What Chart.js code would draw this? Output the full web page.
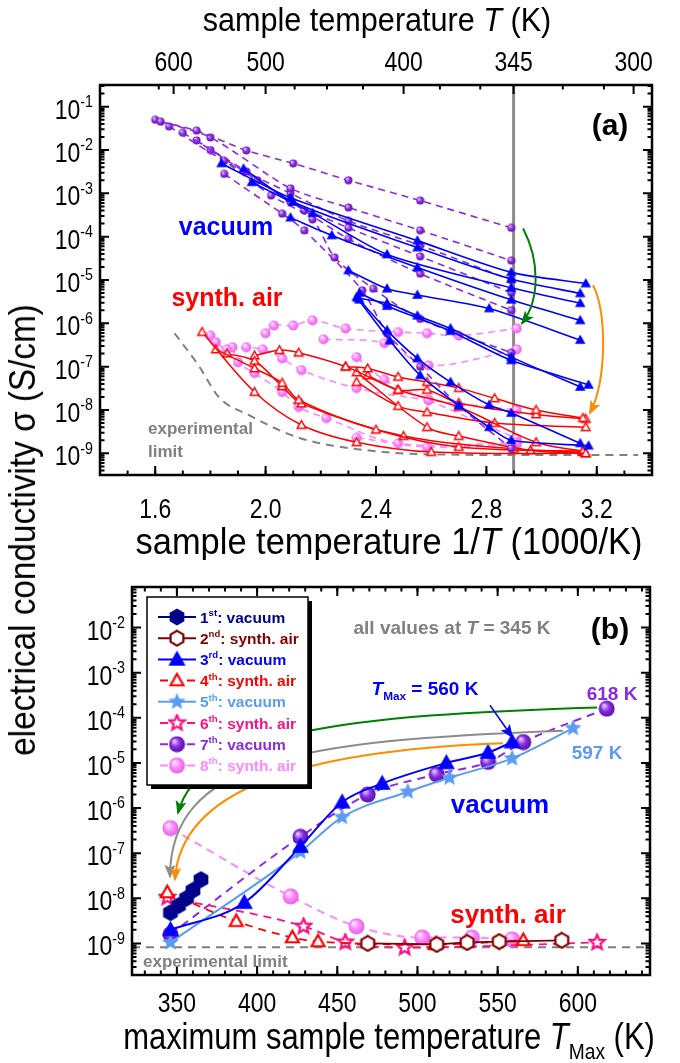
<!DOCTYPE html>
<html>
<head>
<meta charset="utf-8">
<script src="https://cdn.jsdelivr.net/npm/chart.js@4.4.1/dist/chart.umd.min.js"></script>
<style>
  html, body { margin: 0; padding: 0; background: #fff; }
  #wrap { position: relative; width: 680px; height: 1063px; overflow: hidden; }
  #ca { position: absolute; left: 0; top: 0; }
  #cb { position: absolute; left: 0; top: 560px; }
  #ylab {
    position: absolute; left: 23px; top: 530px; white-space: nowrap;
    font-family: "Liberation Sans", Arial, sans-serif; font-size: 37px;
    transform: translate(-50%, -50%) rotate(-90deg) scaleX(0.9);
  }
</style>
</head>
<body>
<div id="wrap">
  <canvas id="ca" width="680" height="560"></canvas>
  <canvas id="cb" width="680" height="503"></canvas>
  <div id="ylab">electrical conductivity σ (S/cm)</div>
</div>
<script>
const FONT = '"Liberation Sans", Arial, sans-serif';

// ---------- panel (a): sigma vs 1000/T ----------
const xTicksA = [1.6, 2.0, 2.4, 2.8, 3.2];
const topTicksA = [600, 500, 400, 345, 300];
const topMinorA = [620, 580, 560, 540, 520, 475, 450, 425, 380, 360, 325, 310];
const decadesA = [-1, -2, -3, -4, -5, -6, -7, -8, -9];
const refT = 345;

// 3rd run, vacuum (x = 1000/T, y = sigma in S/cm)
const vac3X = [
  [1.84, 2.09, 2.55, 2.89, 3.16],
  [1.92, 2.10, 2.55, 2.89, 3.14],
  [1.95, 2.17, 2.44, 2.89, 3.14],
  [2.09, 2.24, 2.55, 2.89, 3.14],
  [2.30, 2.44, 2.55, 2.81, 3.14],
  [2.335, 2.44, 2.55, 2.67, 2.89, 3.14],
  [2.34, 2.44, 2.67, 2.89, 3.17],
  [2.34, 2.44, 2.55, 2.67, 2.81, 2.89, 3.14],
  [2.33, 2.45, 2.56, 2.70, 2.81, 2.89, 3.17]
];
const vac3S = [
  [4.9e-3, 7.9e-4, 8.1e-5, 1.5e-5, 8.3e-6],
  [3.7e-3, 6.3e-4, 5.6e-5, 1.05e-5, 4.9e-6],
  [1.8e-3, 3.5e-4, 3.9e-5, 6.6e-6, 2.9e-6],
  [2.75e-4, 1.07e-4, 1.95e-5, 3.5e-6, 1.17e-6],
  [1.66e-5, 6.3e-6, 4.5e-6, 2.2e-6, 4.1e-7],
  [3.8e-6, 2.9e-6, 1.5e-6, 7.6e-7, 1.66e-7, 3.4e-8],
  [5.0e-6, 2.5e-6, 6.6e-7, 1.4e-7, 3.8e-8],
  [3.5e-6, 6.9e-7, 1.55e-7, 4.4e-8, 1.3e-8, 8.5e-9, 1.7e-9],
  [4.0e-6, 4.0e-7, 6.3e-8, 1.26e-8, 4.0e-9, 2.0e-9, 1.5e-9]
];

// 7th run, vacuum
const vac7X = [
  [1.62, 1.75, 1.93, 2.10, 2.30, 2.56, 2.89],
  [1.60, 1.80, 2.09, 2.30, 2.56, 2.89],
  [1.65, 1.85, 2.09, 2.30, 2.56, 2.89],
  [1.70, 1.93, 2.09, 2.30, 2.56, 2.89],
  [1.75, 1.97, 2.14, 2.30, 2.56, 2.89],
  [1.80, 2.02, 2.17, 2.25, 2.39, 2.56, 2.89],
  [1.85, 2.06, 2.14, 2.35, 2.44, 2.56, 2.70, 2.89]
];
const vac7S = [
  [4.5e-2, 2.8e-2, 9.8e-3, 4.9e-3, 2.0e-3, 6.8e-4, 1.6e-4],
  [5.0e-2, 1.95e-2, 1.3e-3, 4.7e-4, 1.4e-4, 2.8e-5],
  [3.5e-2, 5.6e-3, 1.0e-3, 2.3e-4, 6.3e-5, 1.0e-5],
  [2.5e-2, 3.2e-3, 6.3e-4, 1.6e-4, 3.5e-5, 5.1e-6],
  [1.66e-2, 2.0e-3, 4.0e-4, 8.9e-5, 1.4e-5, 2.0e-6],
  [1.0e-2, 8.9e-4, 2.5e-4, 3.3e-5, 6.3e-6, 1.26e-6, 2.1e-7],
  [2.8e-3, 3.4e-4, 1.4e-4, 5.8e-6, 5.9e-7, 1.0e-7, 1.26e-8, 1.3e-9]
];

// 4th run, synthetic air
const air4X = [
  [1.77, 1.96, 2.13, 2.33, 2.60, 3.16],
  [1.82, 1.96, 2.06, 2.12, 2.40, 2.70, 3.15],
  [1.86, 1.96, 2.06, 2.13, 2.50, 2.90, 3.15],
  [1.96, 2.05, 2.12, 2.29, 2.48, 2.70, 2.98, 3.15],
  [2.29, 2.37, 2.48, 2.585, 2.70, 2.83, 2.98, 3.15],
  [2.37, 2.48, 2.585, 2.70, 2.98, 3.16],
  [2.33, 2.48, 2.585, 2.83, 3.16],
  [2.33, 2.585, 2.70, 2.96, 3.16]
];
const air4S = [
  [6.3e-7, 2.6e-8, 4.5e-9, 1.8e-9, 1.07e-9, 1.0e-9],
  [2.5e-7, 9.1e-8, 4.2e-8, 1.7e-8, 3.5e-9, 1.4e-9, 1.12e-9],
  [2.0e-7, 1.35e-7, 3.5e-8, 1.4e-8, 2.5e-9, 1.26e-9, 1.07e-9],
  [1.8e-7, 2.4e-7, 2.1e-7, 1.0e-7, 2.9e-8, 1.17e-8, 1.8e-9, 1.12e-9],
  [1.0e-7, 9.1e-8, 5.8e-8, 4.4e-8, 3.2e-8, 1.86e-8, 1.0e-8, 6.5e-9],
  [6.3e-8, 2.9e-8, 2.9e-8, 1.45e-8, 7.9e-9, 6.2e-9],
  [4.4e-8, 1.23e-8, 8.9e-9, 5.0e-9, 4.0e-9],
  [7.4e-8, 4.0e-9, 2.5e-9, 1.17e-9, 1.0e-9]
];

// 8th run, synthetic air
const air8X = [
  [1.80, 1.82, 1.86, 1.93, 1.99, 2.06, 2.13, 2.33, 2.59, 2.91],
  [2.00, 2.03, 2.10, 2.17, 2.29, 2.48, 2.585, 2.70, 2.91],
  [2.21, 2.43, 2.59, 2.91],
  [1.88, 1.90, 1.96, 2.06, 2.12, 2.22, 2.48, 2.91],
  [2.33, 2.43, 2.59, 2.91],
  [2.33, 2.585, 2.91]
];
const air8S = [
  [5.2e-7, 3.7e-7, 2.5e-7, 2.8e-7, 2.5e-7, 1.55e-7, 8.3e-8, 3.2e-8, 1.7e-8, 1.0e-8],
  [5.9e-7, 8.9e-7, 8.9e-7, 1.17e-6, 7.6e-7, 6.3e-7, 5.9e-7, 5.2e-7, 7.6e-7],
  [4.3e-7, 3.5e-7, 1.07e-7, 2.5e-7],
  [2.8e-7, 1.26e-7, 7.1e-8, 2.6e-8, 1.17e-8, 6.5e-9, 1.7e-9, 1.74e-9],
  [1.66e-7, 5.0e-8, 1.7e-8, 2.2e-9],
  [2.3e-9, 1.4e-9, 1.6e-9]
];

// experimental limit (panel a)
const limitAX = [1.67, 1.76, 1.83, 1.94, 2.12, 2.43, 2.70, 3.00, 3.35];
const limitAS = [5.9e-7, 1.0e-7, 2.0e-8, 7.6e-9, 2.3e-9, 1.07e-9, 9.3e-10, 9.1e-10, 9.1e-10];

// ---------- panel (b): sigma at 345 K vs T_Max ----------
const xTicksB = [350, 400, 450, 500, 550, 600];
const decadesB = [-2, -3, -4, -5, -6, -7, -8, -9];
const tmax1 = [346, 351, 356, 360, 365];
const sig1 = [4.8e-9, 6.9e-9, 1.0e-8, 1.5e-8, 2.6e-8];
const tmax2 = [469, 512, 531, 551, 590];
const sig2 = [1.0e-9, 9.5e-10, 1.05e-9, 1.1e-9, 1.17e-9];
const tmax3 = [346, 392, 427, 453, 478, 518, 544, 559];
const sig3 = [2.0e-9, 8.0e-9, 1.4e-7, 1.35e-6, 3.5e-6, 1.0e-5, 1.7e-5, 2.9e-5];
const tmax4 = [344, 387, 422, 438, 511, 566];
const sig4 = [1.35e-8, 3.1e-9, 1.35e-9, 1.1e-9, 9.5e-10, 1.17e-9];
const tmax5 = [346, 427, 453, 494, 520, 559, 597];
const sig5 = [1.05e-9, 1.07e-7, 6.3e-7, 2.3e-6, 4.7e-6, 1.26e-5, 5.9e-5];
const tmax6 = [344, 429, 455, 492, 612];
const sig6 = [1.05e-8, 2.4e-9, 1.07e-9, 8.1e-10, 1.05e-9];
const tmax7 = [346, 427, 469, 512, 544, 566, 618];
const sig7 = [1.6e-9, 2.3e-7, 2.0e-6, 5.6e-6, 1.05e-5, 2.9e-5, 1.6e-4];
const tmax8 = [346, 421, 462, 503, 534, 559];
const sig8 = [3.6e-7, 1.1e-8, 2.4e-9, 1.35e-9, 1.35e-9, 1.23e-9];
const expLimitB = 8.2e-10;

const legOrd = ['1', '2', '3', '4', '5', '6', '7', '8'];
const legSup = ['st', 'nd', 'rd', 'th', 'th', 'th', 'th', 'th'];
const legName = ['vacuum', 'synth. air', 'vacuum', 'synth. air', 'vacuum', 'synth. air', 'vacuum', 'synth. air'];

// ---------- marker images ----------
function mk(size, fn) {
  const c = document.createElement('canvas');
  c.width = c.height = size;
  const g = c.getContext('2d');
  g.translate(size / 2, size / 2);
  fn(g, size / 2);
  return c;
}
function poly(g, pts, fill, stroke, lw) {
  g.beginPath();
  pts.forEach((p, i) => i ? g.lineTo(p[0], p[1]) : g.moveTo(p[0], p[1]));
  g.closePath();
  if (fill) { g.fillStyle = fill; g.fill(); }
  if (stroke) { g.lineWidth = lw; g.strokeStyle = stroke; g.lineJoin = 'miter'; g.stroke(); }
}
function triMk(size, fill, stroke, lw) {
  return mk(size, (g, r) => {
    const h = r - lw - 0.5;
    poly(g, [[0, -h], [h * 0.95, h * 0.7], [-h * 0.95, h * 0.7]], fill, stroke, lw);
  });
}
function hexMk(size, fill, stroke, lw) {
  return mk(size, (g, r) => {
    const rr = r - lw / 2 - 0.5, pts = [];
    for (let i = 0; i < 6; i++) { const a = -Math.PI / 2 + i * Math.PI / 3; pts.push([rr * Math.cos(a), rr * Math.sin(a)]); }
    poly(g, pts, fill, stroke, lw);
  });
}
function starMk(size, fill, stroke, lw) {
  return mk(size, (g, r) => {
    const ro = r - lw / 2 - 0.5, ri = ro * 0.45, pts = [];
    for (let i = 0; i < 10; i++) { const a = -Math.PI / 2 + i * Math.PI / 5, q = i % 2 ? ri : ro; pts.push([q * Math.cos(a), q * Math.sin(a)]); }
    poly(g, pts, fill, stroke, lw);
  });
}
function ballMk(size, base, hi, edge) {
  return mk(size, (g, r) => {
    const gr = g.createRadialGradient(-r * 0.35, -r * 0.4, r * 0.05, 0, 0, r);
    gr.addColorStop(0, hi); gr.addColorStop(0.5, base); gr.addColorStop(1, edge);
    g.fillStyle = gr; g.beginPath(); g.arc(0, 0, r - 0.5, 0, Math.PI * 2); g.fill();
  });
}

const C = {
  navy: '#00008b', dred: '#800000', blue: '#0000ff', red: '#ff0000',
  lblue: '#5b9cf2', dpink: '#ff1080', purple: '#8a2be2', pink: '#ff88ff',
  gray: '#8c8c8c', green: '#008000', orange: '#ff8c00'
};

// ---------- text helper ----------
function runFont(r, o) {
  const s = (r.sub || r.sup) ? o.size * 0.62 : o.size;
  return (r.it ? 'italic ' : '') + (o.bold ? 'bold ' : '') + s + 'px ' + FONT;
}
function txt(ctx, runs, x, y, o) {
  ctx.save();
  ctx.fillStyle = o.color || '#000';
  ctx.textBaseline = 'alphabetic';
  ctx.textAlign = 'left';
  let w = 0;
  const ws = runs.map(r => { ctx.font = runFont(r, o); const m = ctx.measureText(r.t).width; w += m; return m; });
  const sx = o.sx || 1;
  ctx.translate(x, y + o.size * 0.36);
  ctx.scale(sx, 1);
  let cx = o.align === 'left' ? 0 : o.align === 'right' ? -w : -w / 2;
  runs.forEach((r, i) => {
    ctx.font = runFont(r, o);
    const dy = r.sup ? -o.size * 0.42 : r.sub ? o.size * 0.28 : 0;
    ctx.fillText(r.t, cx, dy);
    cx += ws[i];
  });
  ctx.restore();
}

// ---------- axis helpers ----------
function frame(ctx, a) {
  ctx.save(); ctx.lineWidth = 2.5; ctx.strokeStyle = '#000';
  ctx.strokeRect(a.left, a.top, a.right - a.left, a.bottom - a.top); ctx.restore();
}
function xTickMarks(ctx, a, pxs, len, top, bottom) {
  ctx.save(); ctx.lineWidth = 2; ctx.strokeStyle = '#000'; ctx.beginPath();
  pxs.forEach(p => {
    if (bottom) { ctx.moveTo(p, a.bottom); ctx.lineTo(p, a.bottom - len); }
    if (top) { ctx.moveTo(p, a.top); ctx.lineTo(p, a.top + len); }
  });
  ctx.stroke(); ctx.restore();
}
function yTickMarks(ctx, a, pys, len) {
  ctx.save(); ctx.lineWidth = 2; ctx.strokeStyle = '#000'; ctx.beginPath();
  pys.forEach(p => {
    ctx.moveTo(a.left, p); ctx.lineTo(a.left + len, p);
    ctx.moveTo(a.right, p); ctx.lineTo(a.right - len, p);
  });
  ctx.stroke(); ctx.restore();
}
function logAxis(ctx, a, ys, decades, labelRight, size) {
  const major = [], minor = [];
  for (let d = -12; d <= 1; d++) {
    const pv = ys.getPixelForValue(Math.pow(10, d));
    if (pv >= a.top - 0.5 && pv <= a.bottom + 0.5) major.push(pv);
    for (let k = 2; k <= 9; k++) {
      const v = k * Math.pow(10, d);
      if (v > ys.min && v < ys.max) minor.push(ys.getPixelForValue(v));
    }
  }
  yTickMarks(ctx, a, major, 9);
  yTickMarks(ctx, a, minor, 4.5);
  decades.forEach(d => {
    const p = ys.getPixelForValue(Math.pow(10, d));
    txt(ctx, [{ t: '10' }, { t: String(d), sup: true }], labelRight, p + 2, { size: size, align: 'right', sx: 0.82 });
  });
}
function bez(ctx, xs, ys, P, color, lw) {
  const q = P.map(p => [xs.getPixelForValue(p[0]), ys.getPixelForValue(p[1])]);
  ctx.save(); ctx.strokeStyle = color; ctx.fillStyle = color; ctx.lineWidth = lw;
  ctx.beginPath(); ctx.moveTo(q[0][0], q[0][1]);
  if (q.length === 4) ctx.bezierCurveTo(q[1][0], q[1][1], q[2][0], q[2][1], q[3][0], q[3][1]);
  else ctx.lineTo(q[1][0], q[1][1]);
  const e = q[q.length - 1], b = q[q.length - 2];
  const ang = Math.atan2(e[1] - b[1], e[0] - b[0]);
  ctx.stroke();
  ctx.translate(e[0], e[1]); ctx.rotate(ang);
  ctx.beginPath(); ctx.moveTo(2, 0); ctx.lineTo(-12, -5.5); ctx.lineTo(-9, 0); ctx.lineTo(-12, 5.5); ctx.closePath(); ctx.fill();
  ctx.restore();
}

// ---------- datasets ----------
function curves(xs, ys, style) {
  return xs.map((xv, i) => Object.assign({ data: xv.map((x, j) => ({ x: x, y: ys[i][j] })), showLine: true }, style));
}
const mkA = {
  tri: triMk(12, C.blue, null, 0),
  otri: triMk(13, '#fff', C.red, 1.5),
  pball: ballMk(9, '#8a2be2', '#e8d0ff', '#5a10a0'),
  kball: ballMk(11, '#ff88ff', '#fff0ff', '#e060e0')
};
const dsA = [].concat(
  curves(vac3X, vac3S, { borderColor: C.blue, borderWidth: 1.6, pointStyle: mkA.tri, pointRadius: 5, tension: 0.25 }),
  curves(vac7X, vac7S, { borderColor: C.purple, borderWidth: 1.6, borderDash: [7, 5], pointStyle: mkA.pball, pointRadius: 4, tension: 0.25 }),
  curves(air4X, air4S, { borderColor: C.red, borderWidth: 1.5, pointStyle: mkA.otri, pointRadius: 5, tension: 0.35 }),
  curves(air8X, air8S, { borderColor: C.pink, borderWidth: 1.6, borderDash: [7, 5], pointStyle: mkA.kball, pointRadius: 5, tension: 0.35 }),
  [{ data: limitAX.map((x, j) => ({ x: x, y: limitAS[j] })), showLine: true, borderColor: '#808080', borderWidth: 2,
     borderDash: [8, 6], pointRadius: 0, cubicInterpolationMode: 'monotone' }]
);

const seriesB = [
  { x: tmax1, y: sig1, color: C.navy, mk: hexMk(18, C.navy, null, 0), dash: [], lw: 2, tension: 0 },
  { x: tmax2, y: sig2, color: C.dred, mk: hexMk(18, '#fff', C.dred, 2.2), dash: [], lw: 1.8, tension: 0 },
  { x: tmax3, y: sig3, color: C.blue, mk: triMk(19, C.blue, null, 0), dash: [], lw: 2, tension: 0.4 },
  { x: tmax4, y: sig4, color: C.red, mk: triMk(19, '#fff', C.red, 2.2), dash: [8, 6], lw: 1.8, tension: 0.3 },
  { x: tmax5, y: sig5, color: C.lblue, mk: starMk(19, C.lblue, null, 0), dash: [], lw: 2, tension: 0.4 },
  { x: tmax6, y: sig6, color: C.dpink, mk: starMk(19, '#fff', C.dpink, 2.2), dash: [8, 6], lw: 1.8, tension: 0.3 },
  { x: tmax7, y: sig7, color: C.purple, mk: ballMk(17, '#8a2be2', '#e8d0ff', '#5010a0'), dash: [8, 6], lw: 2, tension: 0.2 },
  { x: tmax8, y: sig8, color: C.pink, mk: ballMk(17, '#ff88ff', '#fff0ff', '#e060e0'), dash: [8, 6], lw: 2, tension: 0.4 }
];
const xMinB = 322, xMaxB = 645;
const dsB = seriesB.map(s => ({
  data: s.x.map((x, j) => ({ x: x, y: s.y[j] })), showLine: true, borderColor: s.color, borderWidth: s.lw,
  borderDash: s.dash, pointStyle: s.mk, pointRadius: 6, tension: s.tension, cubicInterpolationMode: s.tension ? 'monotone' : 'default'
})).concat([{
  data: [{ x: xMinB, y: expLimitB }, { x: xMaxB, y: expLimitB }], showLine: true, borderColor: '#808080',
  borderWidth: 2, borderDash: [8, 6], pointRadius: 0
}]);

// ---------- plugins ----------
const panelA = {
  id: 'panelA',
  beforeDatasetsDraw(chart) {
    const { ctx, chartArea: a, scales: { x } } = chart;
    const px = x.getPixelForValue(1000 / refT);
    ctx.save(); ctx.strokeStyle = C.gray; ctx.lineWidth = 3;
    ctx.beginPath(); ctx.moveTo(px, a.top); ctx.lineTo(px, a.bottom); ctx.stroke(); ctx.restore();
  },
  afterDatasetsDraw(chart) {
    const { ctx, chartArea: a, scales: { x, y } } = chart;
    bez(ctx, x, y, [[2.933, 1.55e-4], [2.994, 2.8e-5], [2.994, 3.4e-6], [2.929, 1.0e-6]], C.green, 2);
    bez(ctx, x, y, [[3.186, 7.6e-6], [3.237, 2.0e-6], [3.237, 4.9e-8], [3.175, 8.5e-9]], C.orange, 2);

    frame(ctx, a);
    const minor = [];
    for (let v = 1.4; v <= 3.41; v += 0.1) minor.push(x.getPixelForValue(v));
    xTickMarks(ctx, a, minor, 4.5, false, true);
    xTickMarks(ctx, a, xTicksA.map(v => x.getPixelForValue(v)), 9, false, true);
    xTickMarks(ctx, a, topMinorA.map(t => x.getPixelForValue(1000 / t)), 4.5, true, false);
    xTickMarks(ctx, a, topTicksA.map(t => x.getPixelForValue(1000 / t)), 9, true, false);
    logAxis(ctx, a, y, decadesA, 93, 28);

    xTicksA.forEach(v => txt(ctx, [{ t: v.toFixed(1) }], x.getPixelForValue(v), a.bottom + 33, { size: 28, sx: 0.82 }));
    topTicksA.forEach(t => txt(ctx, [{ t: String(t) }], x.getPixelForValue(1000 / t), a.top - 24, { size: 28, sx: 0.82 }));
    txt(ctx, [{ t: 'sample temperature ' }, { t: 'T', it: true }, { t: ' (K)' }], 377, 19, { size: 34, sx: 0.9 });
    txt(ctx, [{ t: 'sample temperature 1/' }, { t: 'T', it: true }, { t: ' (1000/K)' }], 389, 541, { size: 37, sx: 0.93 });

    txt(ctx, [{ t: '(a)' }], 610, 124, { size: 30, bold: true });
    txt(ctx, [{ t: 'vacuum' }], 226, 226, { size: 25, bold: true, color: C.blue });
    txt(ctx, [{ t: 'synth. air' }], 227, 297, { size: 25, bold: true, color: C.red });
    txt(ctx, [{ t: 'experimental' }], 148, 428, { size: 17, bold: true, color: '#808080', align: 'left' });
    txt(ctx, [{ t: 'limit' }], 148, 451, { size: 17, bold: true, color: '#808080', align: 'left' });
  }
};

const panelB = {
  id: 'panelB',
  afterDatasetsDraw(chart) {
    const { ctx, chartArea: a, scales: { x, y } } = chart;
    bez(ctx, x, y, [[612, 1.7e-4], [458, 1.15e-4], [364, 5.2e-5], [350.7, 7.8e-7]], C.green, 2);
    bez(ctx, x, y, [[590.7, 5.2e-5], [426.7, 3.2e-5], [345.7, 1.15e-5], [345.7, 3.0e-8]], '#8c8c8c', 2);
    bez(ctx, x, y, [[553.3, 2.75e-5], [426.7, 1.9e-5], [352, 2.5e-6], [348.8, 2.6e-8]], C.orange, 2);
    bez(ctx, x, y, [[545.2, 1.9e-4], [559, 3.8e-5]], C.blue, 1.5);

    frame(ctx, a);
    const minor = [];
    for (let v = 330; v <= xMaxB; v += 10) minor.push(x.getPixelForValue(v));
    xTickMarks(ctx, a, minor, 4.5, true, true);
    xTickMarks(ctx, a, xTicksB.map(v => x.getPixelForValue(v)), 9, true, true);
    logAxis(ctx, a, y, decadesB, 125, 28);
    xTicksB.forEach(v => txt(ctx, [{ t: String(v) }], x.getPixelForValue(v), a.bottom + 27, { size: 28, sx: 0.82 }));
    txt(ctx, [{ t: 'maximum sample temperature ' }, { t: 'T', it: true }, { t: 'Max', sub: true }, { t: ' (K)' }], 389, 476, { size: 36, sx: 0.86 });

    txt(ctx, [{ t: 'all values at ' }, { t: 'T', it: true }, { t: ' = 345 K' }], 452, 67, { size: 19, bold: true, color: '#808080' });
    txt(ctx, [{ t: '(b)' }], 610, 68, { size: 30, bold: true });
    txt(ctx, [{ t: 'T', it: true }, { t: 'Max', sub: true }, { t: ' = 560 K' }], 425, 128, { size: 19, bold: true, color: C.blue });
    txt(ctx, [{ t: '618 K' }], 612, 133, { size: 19, bold: true, color: C.purple });
    txt(ctx, [{ t: '597 K' }], 597, 192, { size: 19, bold: true, color: C.lblue });
    txt(ctx, [{ t: 'vacuum' }], 500, 244, { size: 26, bold: true, color: C.blue });
    txt(ctx, [{ t: 'synth. air' }], 508, 354, { size: 26, bold: true, color: C.red });
    txt(ctx, [{ t: 'experimental limit' }], 143, 401, { size: 17, bold: true, color: '#808080', align: 'left' });

    // legend box
    const bx = 147, by = 37, bw = 161, bh = 188;
    ctx.save();
    ctx.fillStyle = '#000'; ctx.fillRect(bx + 4, by + 4, bw, bh);
    ctx.fillStyle = '#fff'; ctx.fillRect(bx, by, bw, bh);
    ctx.lineWidth = 1.5; ctx.strokeStyle = '#000'; ctx.strokeRect(bx, by, bw, bh);
    seriesB.forEach((s, i) => {
      const ly = by + 20 + i * 21.2;
      ctx.strokeStyle = s.color; ctx.lineWidth = 2; ctx.beginPath();
      if (s.dash.length) { ctx.moveTo(160, ly); ctx.lineTo(168, ly); ctx.moveTo(187, ly); ctx.lineTo(195, ly); }
      else { ctx.moveTo(158, ly); ctx.lineTo(196, ly); }
      ctx.stroke();
      ctx.drawImage(s.mk, 177 - s.mk.width / 2, ly - s.mk.height / 2);
      txt(ctx, [{ t: legOrd[i] }, { t: legSup[i], sup: true }, { t: ': ' + legName[i] }], 200, ly, { size: 15.5, bold: true, color: s.color, align: 'left' });
    });
    ctx.restore();
  }
};

Chart.defaults.font.family = FONT;

new Chart(document.getElementById('ca'), {
  type: 'scatter',
  data: { datasets: dsA },
  options: {
    responsive: false, animation: false, devicePixelRatio: 1,
    layout: { padding: { left: 100, right: 28, top: 85, bottom: 85 } },
    plugins: { legend: { display: false }, tooltip: { enabled: false } },
    scales: {
      x: { type: 'linear', min: 1.4, max: 3.4, display: false },
      y: { type: 'logarithmic', min: Math.pow(10, -9.5), max: Math.pow(10, -0.5), display: false }
    }
  },
  plugins: [panelA]
});

new Chart(document.getElementById('cb'), {
  type: 'scatter',
  data: { datasets: dsB },
  options: {
    responsive: false, animation: false, devicePixelRatio: 1,
    layout: { padding: { left: 132, right: 30, top: 27, bottom: 88 } },
    plugins: { legend: { display: false }, tooltip: { enabled: false } },
    scales: {
      x: { type: 'linear', min: xMinB, max: xMaxB, display: false },
      y: { type: 'logarithmic', min: Math.pow(10, -9.7), max: Math.pow(10, -1.1), display: false }
    }
  },
  plugins: [panelB]
});
</script>
</body>
</html>
